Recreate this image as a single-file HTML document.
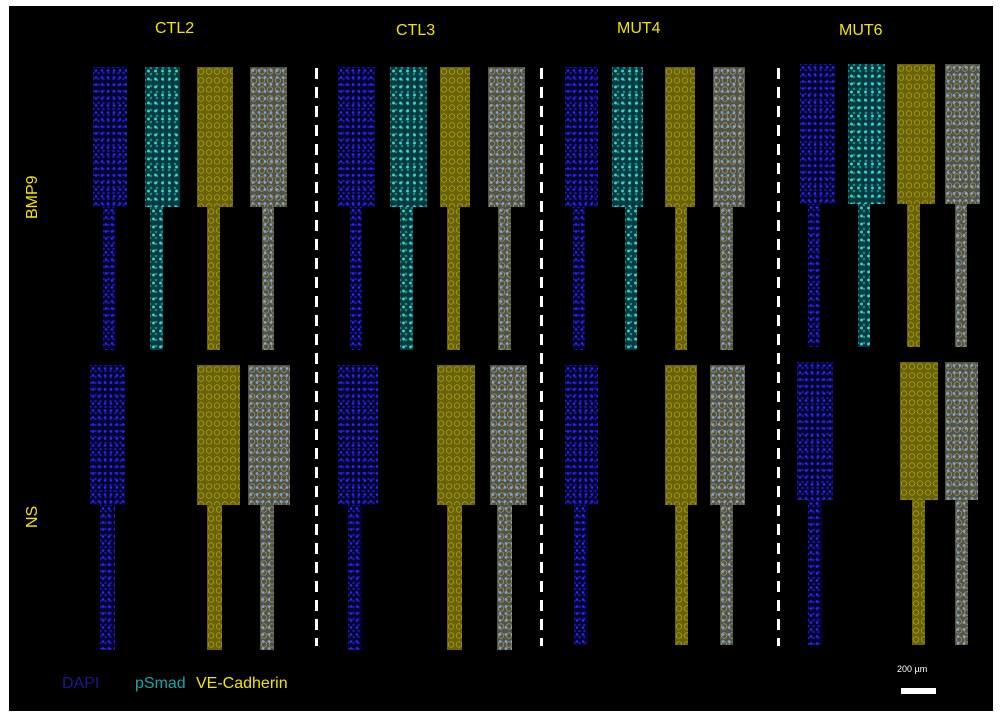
<!DOCTYPE html>
<html><head><meta charset="utf-8"><style>
html,body{margin:0;padding:0;background:#fff;}
#c{position:relative;width:1000px;height:721px;background:#fff;overflow:hidden;font-family:"Liberation Sans",sans-serif;}
#bk{position:absolute;left:9px;top:6px;width:984px;height:705px;background:#000;}
.s{position:absolute;}
.d{background:#03032e;background-image:radial-gradient(circle,#2a2af0 1px,transparent 1.6px),radial-gradient(circle,#1a1ab0 0.9px,transparent 1.5px);background-size:6px 7px,5px 6px;background-position:0 0,3px 3px;}
.p{background:#053a3e;background-image:radial-gradient(circle,#3cd8d8 1.1px,transparent 1.8px),radial-gradient(circle,#1a9090 0.9px,transparent 1.6px);background-size:7px 8px,6px 6px;background-position:0 0,3px 4px;}
.v{background:#6a6208;background-image:radial-gradient(circle,transparent 2.2px,#c8bc18 2.7px,transparent 3.3px);background-size:8px 9px;}
.m{background:#545444;background-image:radial-gradient(circle,#7fa8d8 1px,transparent 1.7px),radial-gradient(circle,transparent 2.2px,#b8b078 2.7px,transparent 3.3px);background-size:6px 7px,8px 9px;}
.t{position:absolute;color:#f2e600;font-size:16px;}
.dash{position:absolute;width:3px;background:repeating-linear-gradient(to bottom,#fff 0 11px,transparent 11px 19px);}
</style></head><body><div id="c"><div id="bk"></div>
<div class="t" style="left:155px;top:20px">CTL2</div>
<div class="t" style="left:396px;top:22px">CTL3</div>
<div class="t" style="left:617px;top:20px">MUT4</div>
<div class="t" style="left:839px;top:22px">MUT6</div>
<div class="t" style="left:24px;top:219px;transform:rotate(-90deg);transform-origin:left top">BMP9</div>
<div class="t" style="left:24px;top:528px;transform:rotate(-90deg);transform-origin:left top">NS</div>
<div class="dash" style="left:315px;top:68px;height:578px"></div>
<div class="dash" style="left:540px;top:68px;height:578px"></div>
<div class="dash" style="left:777px;top:68px;height:578px"></div>
<div class="t" style="left:62px;top:675px;color:#1a1a90">DAPI</div>
<div class="t" style="left:135px;top:675px;color:#18a8a8">pSmad</div>
<div class="t" style="left:196px;top:675px">VE-Cadherin</div>
<div class="t" style="left:897px;top:664px;color:#fff;font-size:9px">200 µm</div>
<div class="s" style="left:901px;top:688px;width:35px;height:6px;background:#fff"></div>
<div id="g"></div></div>
<script>
var S=[
['d',93,34,67,140],['p',145,35,67,140],['v',197,36,67,140],['m',250,37,67,140],
['d',338,37,67,140],['p',390,37,67,140],['v',440,30,67,140],['m',488,37,67,140],
['d',565,33,67,140],['p',612,31,67,140],['v',665,30,67,140],['m',713,32,67,140],
['d',800,35,64,140],['p',848,37,64,140],['v',897,38,64,140],['m',945,35,64,140],
['d',103,13,207,143],['p',150,13,207,143],['v',207,13,207,143],['m',262,12,207,143],
['d',350,12,207,143],['p',400,13,207,143],['v',447,13,207,143],['m',498,13,207,143],
['d',573,12,207,143],['p',625,12,207,143],['v',675,12,207,143],['m',720,13,207,143],
['d',808,12,204,143],['p',858,12,204,143],['v',907,13,204,143],['m',955,12,204,143],
['d',90,35,365,140],['v',197,43,365,140],['m',248,42,365,140],
['d',338,40,365,140],['v',437,38,365,140],['m',490,37,365,140],
['d',565,33,365,140],['v',665,32,365,140],['m',710,35,365,140],
['d',797,36,362,138],['v',900,38,362,138],['m',945,33,362,138],
['d',100,15,505,145],['v',207,15,505,145],['m',260,14,505,145],
['d',348,14,505,145],['v',447,15,505,145],['m',497,15,505,145],
['d',574,14,505,140],['v',675,13,505,140],['m',720,13,505,140],
['d',808,14,500,145],['v',912,13,500,145],['m',955,13,500,145]];
var g=document.getElementById('g'),h='';
S.forEach(function(a){h+='<div class="s '+a[0]+'" style="left:'+a[1]+'px;width:'+a[2]+'px;top:'+a[3]+'px;height:'+a[4]+'px"></div>';});
g.innerHTML=h;
</script></body></html>
